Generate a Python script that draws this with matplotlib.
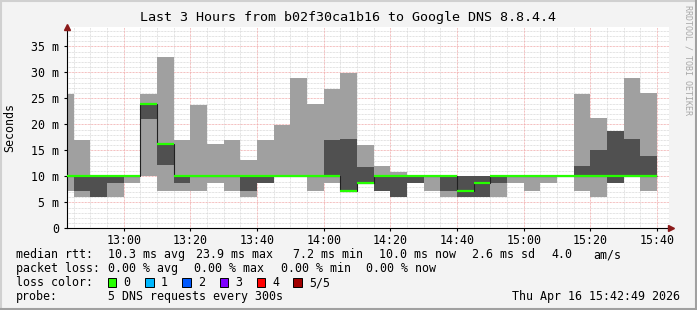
import numpy as np
import matplotlib
matplotlib.use('Agg')
from matplotlib import pyplot as plt
from matplotlib.patches import Rectangle
from matplotlib.lines import Line2D

# 5 min bins, starting 12:40 (minutes after 12:00), 5 pings each, values in ms
bin_start = np.arange(40, 220, 5)
ping1 = [7.2, 6.1, 6.1, 6.1, 8.8, 10.0, 7.2, 7.2, 7.2, 8.8, 7.2, 6.1, 8.8, 10.0, 10.0, 7.2, 8.8, 7.2,
         8.8, 7.2, 6.1, 8.8, 7.2, 6.1, 6.1, 6.1, 6.1, 8.8, 7.2, 8.8, 10.0, 7.2, 6.1, 8.8, 10.0, 7.2]
ping2 = [10.0, 7.2, 6.1, 8.8, 10.0, 21.0, 12.2, 8.8, 10.0, 10.0, 10.0, 7.2, 8.8, 10.0, 10.0, 10.0, 10.0, 7.2,
         8.8, 7.2, 6.1, 8.8, 10.0, 7.2, 6.1, 6.1, 8.8, 10.0, 10.0, 10.0, 10.0, 10.0, 10.0, 8.8, 10.0, 10.0]
median = [10.0, 10.0, 10.0, 10.0, 10.0, 23.9, 16.2, 10.0, 10.0, 10.0, 10.0, 10.0, 10.0, 10.0, 10.0, 10.0, 10.0, 7.2,
          8.8, 10.0, 10.0, 10.0, 10.0, 10.0, 7.2, 8.8, 10.0, 10.0, 10.0, 10.0, 10.0, 10.0, 10.0, 10.0, 10.0, 10.0]
ping4 = [10.0, 10.0, 10.0, 10.0, 10.0, 23.9, 16.2, 10.0, 10.0, 10.0, 10.0, 10.0, 10.0, 10.0, 10.0, 10.0, 17.0, 17.2,
         11.8, 10.0, 10.0, 10.0, 10.0, 10.0, 10.0, 10.0, 10.0, 10.0, 10.0, 10.0, 10.0, 12.0, 15.1, 18.7, 17.2, 13.9]
ping5 = [25.8, 17.0, 10.0, 10.0, 10.0, 25.8, 32.9, 17.0, 23.7, 16.2, 17.0, 13.1, 16.9, 19.9, 28.9, 23.9, 26.8, 29.9,
         16.0, 12.0, 10.8, 10.0, 10.0, 10.0, 10.0, 10.0, 10.0, 10.0, 10.0, 10.0, 10.0, 25.8, 21.2, 18.7, 28.9, 26.0]

x_ticks = [60, 80, 100, 120, 140, 160, 180, 200, 220]
x_labels = ['13:00', '13:20', '13:40', '14:00', '14:20', '14:40', '15:00', '15:20', '15:40']
y_ticks = [0, 5, 10, 15, 20, 25, 30, 35]
y_labels = ['0', '5 m', '10 m', '15 m', '20 m', '25 m', '30 m', '35 m']

loss_labels = ['0', '1', '2', '3', '4', '5/5']
loss_colors = ['#26ff00', '#00b8ff', '#0059ff', '#7e00ff', '#ff0000', '#a10000']

title = 'Last 3 Hours from b02f30ca1b16 to Google DNS 8.8.4.4'
W, H = 697, 310
mono = 'DejaVu Sans Mono'
fs = 8.4

fig = plt.figure(figsize=(W / 100, H / 100), dpi=100, facecolor='#f3f3f3')


def fx(px):
    return px / W


def fy(py):
    return 1 - py / H


# 3d-ish frame: light top/left, dark bottom/right
for xs, ys, col in [([0, 697], [0.8, 0.8], '#d0d0d0'), ([0.8, 0.8], [0, 310], '#d0d0d0'),
                    ([0, 697], [309, 309], '#a0a0a0'), ([696, 696], [0, 310], '#a0a0a0')]:
    fig.add_artist(Line2D([fx(v) for v in xs], [fy(v) for v in ys], color=col, lw=1.5))

ax_l, ax_r, ax_b, ax_t = 67, 669, 228.3, 27
ax = fig.add_axes([fx(ax_l), fy(ax_b), fx(ax_r - ax_l), fy(ax_t) - fy(ax_b)])
ax.set_facecolor('white')

x0 = 43.0
x1 = x0 + (ax_r - ax_l) / (66.67 / 20)
ax.set_xlim(x0, x1)
ax.set_ylim(0, (ax_b - ax_t) / 5.2)

# grid
dots = (0, (0.75, 0.75))
for v in np.arange(45, 225, 5):
    if v % 20:
        ax.axvline(v, color='#d8d8d8', lw=0.7, ls=dots, zorder=0)
for v in range(1, 39):
    if v % 5:
        ax.axhline(v, color='#d8d8d8', lw=0.7, ls=dots, zorder=0)
for v in x_ticks:
    ax.axvline(v, color='#f0a8a8', lw=0.7, ls=dots, zorder=0.5)
for v in y_ticks[1:]:
    ax.axhline(v, color='#f0a8a8', lw=0.7, ls=dots, zorder=0.5)

p1, p2, p3, p4, p5 = map(np.array, (ping1, ping2, median, ping4, ping5))

# smoke
ax.bar(bin_start, p5 - p1, bottom=p1, width=5, align='edge', color='#a0a0a0', lw=0, zorder=2)
ax.bar(bin_start, p4 - p2, bottom=p2, width=5, align='edge', color='#505050', lw=0, zorder=3)

# median line
edges = np.append(bin_start, bin_start[-1] + 5)
ax.stairs(p3, edges, baseline=None, color='#202020', lw=0.8, zorder=4)
ax.hlines(p3, bin_start, bin_start + 5, color=loss_colors[0], lw=1.6, zorder=5)

# axes
for s in ['top', 'right']:
    ax.spines[s].set_visible(False)
for s in ['left', 'bottom']:
    ax.spines[s].set_color('black')
    ax.spines[s].set_linewidth(0.8)
ax.set_xticks(x_ticks)
ax.set_xticklabels(x_labels, family=mono, fontsize=fs)
ax.set_yticks(y_ticks)
ax.set_yticklabels(y_labels, family=mono, fontsize=fs)
ax.tick_params(axis='x', length=2, pad=2, width=0.8)
ax.tick_params(axis='y', length=2, pad=3.6, width=0.8)

ax.plot([0], [1], marker='^', color='#8b1a1a', ms=4.5, transform=ax.transAxes, clip_on=False, zorder=6)
ax.plot([1.004], [0], marker='>', color='#8b1a1a', ms=4.5, transform=ax.transAxes, clip_on=False, zorder=6)

# texts
fig.text(fx(348), fy(18), title, family=mono, fontsize=9.6, ha='center', va='center')
fig.text(fx(10), fy(127), 'Seconds', family=mono, fontsize=fs, rotation=90, ha='center', va='center')
fig.text(fx(688), fy(5), 'RRDTOOL / TOBI OETIKER', family=mono, fontsize=6.0, color='#a8a8a8',
         rotation=270, ha='center', va='top')

rows = [254.5, 268.5, 282.5, 296.5]
fig.text(fx(15.6), fy(rows[0]), 'median rtt:', family=mono, fontsize=fs, va='center')
for xp, s in [(107.6, '10.3 ms avg'), (196.5, '23.9 ms max'), (293.3, '7.2 ms min'),
              (378.7, '10.0 ms now'), (472, '2.6 ms sd'), (551, '4.0'), (593.3, 'am/s')]:
    fig.text(fx(xp), fy(rows[0]), s, family=mono, fontsize=fs, va='center')
fig.text(fx(15.6), fy(rows[1]), 'packet loss:', family=mono, fontsize=fs, va='center')
for xp, s in [(107.6, '0.00 % avg'), (194.2, '0.00 % max'), (281.0, '0.00 % min'), (365.5, '0.00 % now')]:
    fig.text(fx(xp), fy(rows[1]), s, family=mono, fontsize=fs, va='center')
fig.text(fx(15.6), fy(rows[2]), 'loss color:', family=mono, fontsize=fs, va='center')
box_x = [108, 145.3, 182.2, 219.6, 256.9, 293.3]
for bx, lab, col in zip(box_x, loss_labels, loss_colors):
    fig.patches.append(Rectangle((fx(bx), fy(286.7)), fx(8.4), fy(278.3) - fy(286.7),
                                 transform=fig.transFigure, facecolor=col, edgecolor='black', lw=0.7))
    fig.text(fx(bx + 15.5), fy(rows[2]), lab, family=mono, fontsize=fs, va='center')
fig.text(fx(15.6), fy(rows[3]), 'probe:', family=mono, fontsize=fs, va='center')
fig.text(fx(107.6), fy(rows[3]), '5 DNS requests every 300s', family=mono, fontsize=fs, va='center')
fig.text(fx(680), fy(rows[3]), 'Thu Apr 16 15:42:49 2026', family=mono, fontsize=fs, va='center', ha='right')

fig.savefig('out.png', dpi=100, facecolor=fig.get_facecolor())
